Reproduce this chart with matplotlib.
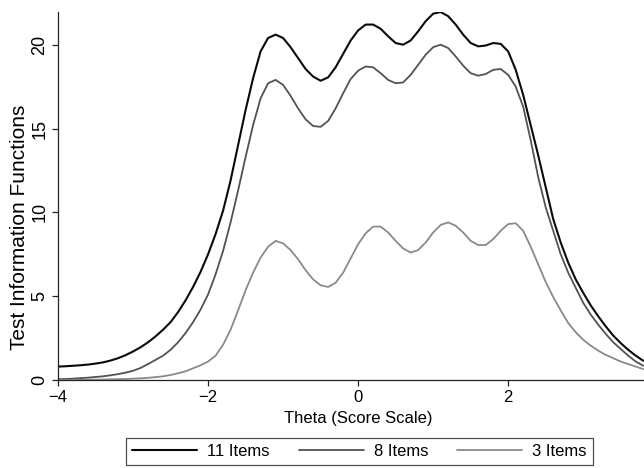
import matplotlib
matplotlib.use("Agg")
import matplotlib.pyplot as plt
import numpy as np

plt.rcParams['font.family'] = ['Liberation Sans', 'DejaVu Sans']

# theta grid, step 0.1
theta = np.round(np.arange(-4.0, 3.81, 0.1), 1)

items_11 = [0.80, 0.82, 0.85, 0.88, 0.92, 0.98, 1.05, 1.16, 1.30, 1.48,
            1.70, 1.95, 2.25, 2.60, 3.00, 3.45, 4.05, 4.75, 5.55, 6.45,
            7.50, 8.70, 10.1, 11.9, 14.0, 16.1, 18.0, 19.6, 20.4, 20.6,
            20.4, 19.85, 19.2, 18.55, 18.1, 17.85, 18.05, 18.65, 19.45, 20.25,
            20.85, 21.2, 21.2, 20.95, 20.5, 20.1, 20.0, 20.25, 20.8, 21.4,
            21.85, 21.95, 21.7, 21.2, 20.6, 20.1, 19.9, 19.95, 20.1, 20.05,
            19.6, 18.5, 17.0, 15.2, 13.4, 11.5, 9.6, 8.2, 7.0, 6.0,
            5.2, 4.45, 3.8, 3.2, 2.65, 2.2, 1.8, 1.45, 1.15]

items_8 = [0.05, 0.06, 0.08, 0.11, 0.14, 0.18, 0.22, 0.28, 0.35, 0.44,
           0.55, 0.72, 0.95, 1.20, 1.45, 1.80, 2.25, 2.80, 3.45, 4.20,
           5.10, 6.30, 7.70, 9.40, 11.3, 13.3, 15.2, 16.8, 17.7, 17.9,
           17.6, 16.95, 16.2, 15.55, 15.15, 15.1, 15.45, 16.2, 17.1, 17.95,
           18.45, 18.7, 18.65, 18.3, 17.9, 17.7, 17.75, 18.2, 18.8, 19.4,
           19.85, 20.0, 19.8, 19.3, 18.75, 18.3, 18.15, 18.25, 18.5, 18.55,
           18.2, 17.5, 16.3, 14.3, 12.1, 10.3, 8.9, 7.5, 6.4, 5.5,
           4.6, 3.9, 3.3, 2.75, 2.25, 1.85, 1.45, 1.1, 0.85]

items_3 = [0.0, 0.0, 0.01, 0.01, 0.02, 0.02, 0.03, 0.04, 0.05, 0.06,
           0.08, 0.10, 0.13, 0.17, 0.22, 0.30, 0.40, 0.52, 0.70, 0.88,
           1.10, 1.45, 2.10, 3.00, 4.15, 5.35, 6.40, 7.30, 7.95, 8.30,
           8.15, 7.75, 7.2, 6.55, 6.0, 5.65, 5.55, 5.8, 6.4, 7.25,
           8.1, 8.75, 9.15, 9.15, 8.8, 8.3, 7.85, 7.6, 7.75, 8.2,
           8.8, 9.25, 9.4, 9.2, 8.8, 8.3, 8.05, 8.05, 8.4, 8.9,
           9.3, 9.35, 8.9, 7.95, 6.9, 5.85, 4.95, 4.15, 3.4, 2.85,
           2.4, 2.05, 1.75, 1.5, 1.3, 1.1, 0.95, 0.8, 0.65]

series = [("11 Items", items_11, "#0a0a0a", 1.5),
          ("8 Items", items_8, "#525252", 1.3),
          ("3 Items", items_3, "#8a8a8a", 1.3)]

xticks = [-4, -2, 0, 2]
yticks = [0, 5, 10, 15, 20]

fig = plt.figure(figsize=(6.44, 4.68), dpi=100)
ax = fig.add_axes([58 / 644, 88 / 468, 586 / 644, 368 / 468])

for name, vals, col, lw in series:
    ax.plot(theta, vals, color=col, lw=lw, label=name,
            solid_capstyle="round", solid_joinstyle="round")

ax.set_xlim(-4, 3.81)
ax.set_ylim(0, 21.95)
ax.set_xticks(xticks)
ax.set_yticks(yticks)
ax.spines["top"].set_visible(False)
ax.spines["right"].set_visible(False)
for s in ("left", "bottom"):
    ax.spines[s].set_linewidth(0.9)
    ax.spines[s].set_color("#222222")
ax.tick_params(axis="both", direction="out", length=4, width=0.9, color="#222222")
ax.tick_params(axis="x", labelsize=12, pad=3)
ax.tick_params(axis="y", labelsize=13, pad=3, labelrotation=90)
plt.setp(ax.get_yticklabels(), va="center")

ax.set_xlabel("Theta (Score Scale)", fontsize=12)
ax.xaxis.set_label_coords(0.512, -0.085)
ax.xaxis.label.set_va("top")
ax.set_ylabel("Test Information Functions", fontsize=15)
ax.yaxis.set_label_coords(-0.049, 0.416)

leg = ax.legend(loc="center", bbox_to_anchor=(359.5 / 644, 16.5 / 468),
                bbox_transform=fig.transFigure, ncol=3, fontsize=12,
                frameon=True, fancybox=False, handlelength=3.9,
                handletextpad=0.6, columnspacing=1.75, borderpad=0.35,
                borderaxespad=0)
leg.get_frame().set_edgecolor("#222222")
leg.get_frame().set_linewidth(0.9)

fig.savefig("out.png", dpi=100)
